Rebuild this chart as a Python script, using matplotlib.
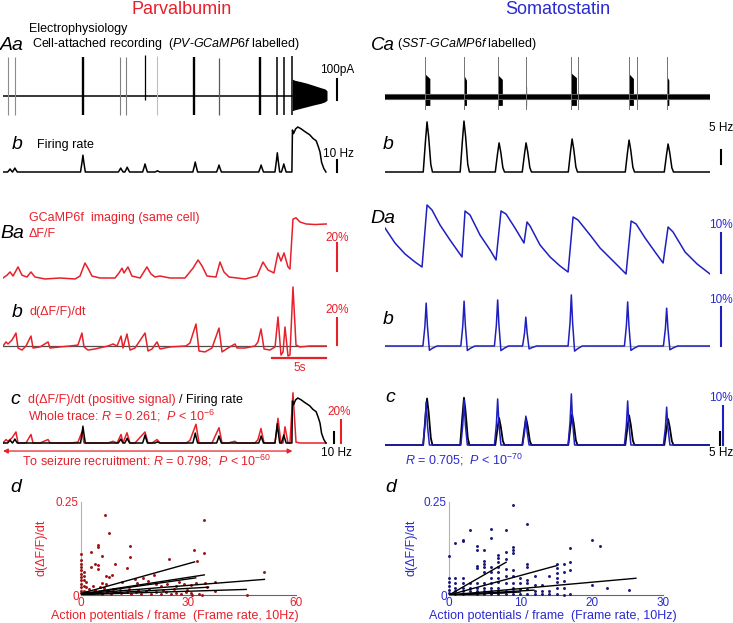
import matplotlib
matplotlib.use('Agg')
import matplotlib.pyplot as plt
import numpy as np

plt.rcParams['font.family'] = ['Liberation Sans', 'DejaVu Sans']
plt.rcParams['mathtext.fontset'] = 'custom'
plt.rcParams['mathtext.rm'] = 'Liberation Sans'
plt.rcParams['mathtext.it'] = 'Liberation Sans:italic'

RED = '#e8202a'
BLUE = '#2a2ad0'
TBLUE = '#1f1fc0'

# ---- Parvalbumin: cell-attached spikes (time s, pA)
aa_t = [0.45, 1.1, 7.4, 10.8, 11.4, 13.15, 14.3, 17.7, 20.0, 23.8, 25.4, 26.0, 26.8]
aa_hi = [185, 185, 185, 185, 185, 195, 190, 185, 180, 185, 185, 185, 190]
aa_lo = [-90, -90, -90, -90, -90, -20, -90, -90, -90, -90, -90, -90, -90]
aa_col = ['0.55', '0.55', 'k', '0.5', '0.5', 'k', '0.75', 'k', '0.35', 'k', 'k', 'k', 'k']
aa_lw = [0.8, 0.8, 1.7, 0.8, 0.8, 0.9, 0.8, 1.7, 0.9, 1.7, 1.1, 1.1, 1.1]
# seizure discharge envelope
sz_env_t = [26.8, 27.0, 27.6, 28.2, 28.8, 29.4, 29.8, 30.0]
sz_env_hi = [80, 75, 68, 60, 50, 40, 34, 25]
sz_env_lo = [-70, -66, -58, -50, -42, -35, -28, -20]

# firing rate (Hz)
fr_t = [0.65, 1.1, 7.4, 10.9, 11.5, 13.15, 14.3, 17.8, 20.0, 23.9, 25.4, 26.0]
fr_hz = [2.5, 3.3, 14, 3.3, 4, 6.7, 1, 8.3, 5.8, 5.8, 16, 6.7]
sz_t = [26.5, 26.75, 26.8, 26.9, 27.1, 27.3, 27.6, 27.9, 28.15, 28.4, 28.7,
        29.0, 29.2, 29.35, 29.5, 29.7, 29.9]
sz_hz = [0, 0, 35, 32, 36, 37.5, 36, 34, 32.5, 31, 28, 26, 21, 16.7, 8, 3, 0]

# GCaMP6f dF/F (%)
ba_t = [0, 0.37, 0.65, 0.93, 1.39, 1.76, 2.22, 2.59, 2.96, 3.89, 5.28, 6.67, 7.13,
        7.59, 7.87, 8.24, 8.98, 10.37, 10.74, 11.02, 11.2, 11.57, 11.94, 12.69,
        13.33, 13.7, 14.07, 14.54, 15.46, 16.85, 17.59, 18.06, 18.43, 18.89,
        19.72, 20.09, 20.46, 20.93, 22.41, 23.52, 24.07, 24.54, 25.09, 25.46,
        25.74, 26.02, 26.39, 26.57, 26.85, 27.13, 27.5, 28.06, 28.89, 30.0]
ba_v = [0, 2, 4.3, 1.4, 7.9, 2, 0.7, 4.3, 0.7, -0.7, 0, -0.7, 1.4, 10.7, 7, 1.4,
        0, 0, 3.6, 7, 3.6, 7.9, 1.4, 0, 7.9, 2.9, 0.7, 1.4, 0, 0, 7, 12.9, 8.6,
        1.4, 0.7, 11.4, 4.3, 0.7, -0.7, 1.4, 11.4, 5.7, 3.6, 17.9, 12.1, 17.9,
        7.9, 6.4, 42, 43, 40, 38.6, 38.2, 38.6]

# d(dF/F)/dt (%)
bb_t = [0, 0.28, 0.46, 0.83, 1.2, 1.39, 1.76, 2.13, 2.59, 2.78, 3.43, 4.17, 4.35,
        5.28, 6.2, 6.94, 7.31, 7.5, 7.87, 8.52, 9.72, 10.19, 10.56, 10.93, 11.11,
        11.48, 11.76, 12.22, 13.15, 13.43, 13.8, 14.26, 14.54, 15.46, 16.94,
        17.31, 17.87, 18.15, 18.7, 19.35, 20.0, 20.28, 20.83, 21.48, 21.67,
        22.41, 23.33, 23.61, 23.89, 24.17, 24.72, 25.19, 25.46, 25.74, 25.93,
        26.11, 26.39, 26.57, 26.85, 27.13, 27.5, 28.43, 30.0]
bb_v = [0, 3.0, 1.5, 4.4, 9.6, -1.5, -3.0, 0, 7.4, -1.5, -0.7, 3.0, -1.5, -0.7, 0,
        0.7, 9.6, -0.7, -3.0, -2.2, 0, 1.5, 0, 7.4, -1.5, 8.9, -3.0, -1.5, 9.6,
        -3.7, -2.2, 3.0, -2.2, -0.7, 0, 2.2, 16.3, -3.7, -4.4, -1.5, 13.3, -4.4,
        -1.5, 1.5, -1.5, -1.5, 0, 3.0, 12.6, -2.2, -3.0, -0.7, 21.5, -6.7, -4.4,
        14.1, -7.4, -6.7, 43.7, 0.7, -0.7, 0, 0]

# ---- Somatostatin
ca_t = [3.69, 7.32, 10.43, 12.99, 17.17, 22.53, 26.0]
ca_burst_w = [0.45, 0.2, 0.4, 0.08, 0.5, 0.4, 0.2]
ca_burst_hi = [110, 100, 105, 60, 115, 110, 100]
ca_extra_t = [17.8, 23.3]

cb_t = [3.88, 7.29, 10.53, 13.02, 17.27, 22.53, 26.13]
cb_hz = [17.9, 18.2, 10.4, 10.4, 11.8, 11.4, 10.0]

da_t = [0, 0.92, 1.85, 2.77, 3.42, 3.88, 4.34, 5.08, 6.0, 7.11, 7.39, 7.85, 8.77,
        9.7, 10.25, 10.71, 11.17, 12.0, 12.83, 13.11, 13.39, 14.31, 15.24, 16.16,
        16.9, 17.36, 17.82, 18.93, 19.85, 21.24, 22.25, 22.72, 23.18, 24.01,
        24.93, 25.67, 26.13, 26.59, 27.7, 28.81, 30.0]
da_v = [11.5, 7.75, 5, 3, 1.75, 17.25, 16, 12.25, 8.5, 4.25, 15.75, 14.75, 9.75,
        6, 3.5, 15.75, 15, 11.5, 7.75, 13, 12, 7.25, 4.25, 2, 0.5, 14.25, 13.5,
        9.75, 6.5, 2.75, 0, 13.25, 12.5, 9, 5.5, 2.75, 11.75, 10.5, 5.5, 2.5, 0]

db_t = [3.8, 7.3, 10.4, 13.0, 17.2, 22.4, 26.0]
db_v = [11.0, 11.5, 11.8, 7.4, 13.1, 11.3, 9.7]

# ---- scatter (APs / frame, d(dF/F)/dt)
pv_x = [6.7, 34.4, 7.8, 2.8, 4.7, 4.7, 5.8, 13.6, 13.6, 31.5, 34.4, 32.4, 24.6, 0,
        0, 0, 0, 0, 0, 0, 0, 0, 0, 0, 0,
        0.7, 0.7, 0.7, 0.7, 0.7, 1.5, 1.5, 1.5,
        2.8, 3.9, 4.7, 4.7, 6.9, 7.8, 8.7, 5.9, 7.1, 9.6, 12.7, 11.5,
        15.0, 15.6, 17.3, 18.6, 20.5, 21.0, 22.3, 24.0, 26.4, 27.4, 28.7, 30.6, 32.0,
        37.5, 34.7, 35.2, 37.5, 51.2, 46.2,
        1.7, 3.0, 4.4, 5.8, 7.2, 8.5, 9.9, 11.3, 12.7, 14.0, 15.4, 16.8, 18.2,
        19.6, 20.9, 22.3, 23.7, 25.1, 26.4, 27.8, 29.2, 30.6, 31.0, 32.9, 33.8,
        2.2, 4.0, 6.5, 9.0, 11.0, 13.5, 16.0, 19.0, 23.0, 26.0, 29.5, 3.3, 5.2]
pv_y = [0.216, 0.202, 0.166, 0.116, 0.134, 0.129, 0.105, 0.132, 0.102, 0.120,
        0.113, 0.091, 0.096, 0.109,
        0.093, 0.084, 0.075, 0.066, 0.057, 0.048, 0.039, 0.030, 0.021, 0.012, 0.005,
        0.061, 0.052, 0.039, 0.025, 0.012, 0.034, 0.021, 0.007,
        0.075, 0.084, 0.080, 0.071, 0.052, 0.048, 0.054, 0.032, 0.030, 0.082, 0.073,
        0.034, 0.043, 0.032, 0.047, 0.038, 0.054, 0.030, 0.025, 0.030, 0.023, 0.034,
        0.030, 0.027, 0.032, 0.036, 0.032, 0.021, 0.012, 0.063, 0.0,
        0.007, 0.005, 0.009, 0.004, 0.007, 0.004, 0.009, 0.005, 0.007, 0.004,
        0.008, 0.004, 0.010, 0.004, 0.007, 0.004, 0.008, 0.004, 0.006, 0.004,
        0.009, 0.005, 0.0, 0.003, 0.0,
        0.016, 0.014, 0.018, 0.015, 0.013, 0.017, 0.014, 0.016, 0.013, 0.015,
        0.014, 0.024, 0.022]
pv_fit_x1 = [31.7, 34.4, 51.2, 32.0, 35.6, 46.1]
pv_fit_y0 = [0.004, 0.003, 0.003, 0.002, 0.001, 0.001]
pv_fit_y1 = [0.089, 0.054, 0.042, 0.046, 0.021, 0.015]

sst_x = [9.0, 10.9, 2.9, 5.9, 8.0, 1.9, 1.9, 0.85, 5.9, 20.1, 21.1, 3.9, 3.9, 4.9,
         6.9, 6.9, 6.9, 8.0, 8.0, 9.0, 9.0, 9.0, 17.0, 0,
         3.9, 3.9, 4.9, 4.9, 4.9, 4.9, 5.9, 5.9, 5.9, 6.9, 6.9, 6.9, 6.9, 6.9,
         8.0, 8.0, 8.0, 9.0, 9.0, 9.0, 9.0, 10.0, 10.0, 10.0,
         10.9, 10.9, 10.9, 10.9, 10.9, 12.0, 12.0, 12.0, 13.1, 13.1, 14.0, 14.0,
         15.1, 15.1, 15.1, 15.1, 15.1, 15.1, 16.1, 16.1, 16.1, 16.1, 17.0, 17.0,
         20.1, 22.1, 25.2,
         0, 0, 0, 0, 0, 0.85, 0.85, 0.85, 0.85, 0.85, 1.9, 1.9, 1.9, 1.9, 1.9,
         2.9, 2.9, 2.9, 3.9, 3.9, 3.9, 3.9, 4.9, 4.9, 4.9, 4.9, 5.9, 5.9, 5.9, 5.9,
         6.9, 6.9, 8.0, 8.0, 9.0, 9.0, 10.0, 10.9, 12.0, 13.1, 14.0, 15.1, 16.1, 17.0]
sst_y = [0.242, 0.190, 0.176, 0.178, 0.174, 0.149, 0.144, 0.139, 0.153, 0.149,
         0.133, 0.131, 0.122, 0.121, 0.108, 0.099, 0.090, 0.115, 0.097, 0.130,
         0.120, 0.113, 0.126, 0.106,
         0.077, 0.072, 0.092, 0.083, 0.074, 0.063, 0.074, 0.063, 0.047, 0.074,
         0.063, 0.047, 0.034, 0.020, 0.070, 0.052, 0.032, 0.068, 0.050, 0.032,
         0.020, 0.047, 0.032, 0.015,
         0.083, 0.074, 0.041, 0.032, 0.015, 0.050, 0.026, 0.011, 0.026, 0.011,
         0.052, 0.011, 0.083, 0.072, 0.059, 0.047, 0.034, 0.020, 0.083, 0.061,
         0.038, 0.020, 0.090, 0.068, 0.026, 0.020, 0.013,
         0.047, 0.034, 0.023, 0.014, 0.006, 0.045, 0.032, 0.020, 0.011, 0.004,
         0.047, 0.032, 0.020, 0.011, 0.004, 0.032, 0.020, 0.011, 0.032, 0.020,
         0.011, 0.004, 0.032, 0.020, 0.011, 0.004, 0.032, 0.020, 0.011, 0.004,
         0.011, 0.004, 0.011, 0.004, 0.011, 0.004, 0.004, 0.004, 0.004, 0.004,
         0.004, 0.004, 0.0, 0.004]
sst_fit_x1 = [8.0, 15.1, 26.2, 11.9, 10.0, 8.0]
sst_fit_y1 = [0.088, 0.079, 0.045, 0.013, 0.008, 0.006]

W, H = 733, 623
fig = plt.figure(figsize=(W / 100, H / 100), dpi=100)


def px_ax(x0, y0, x1, y1):
    ax = fig.add_axes([x0 / W, 1 - y1 / H, (x1 - x0) / W, (y1 - y0) / H])
    ax.patch.set_visible(False)
    return ax


def trace_ax(x0, x1, y0, y1, base, ppu):
    ax = px_ax(x0, y0, x1, y1)
    ax.set_xlim(0, 30)
    ax.set_ylim((base - y1) / ppu, (base - y0) / ppu)
    ax.axis('off')
    return ax


def txt(x, y, s, **kw):
    kw.setdefault('va', 'center')
    kw.setdefault('fontsize', 9)
    return fig.text(x / W, 1 - y / H, s, **kw)


def bumps(times, heights, offs, fracs, tail_t=None, tail_v=None):
    xs, ys = [0], [0]
    for t, h in zip(times, heights):
        xs += [t + o for o in offs]
        ys += [h * f for f in fracs]
    if tail_t is not None:
        xs += tail_t
        ys += tail_v
    else:
        xs.append(30)
        ys.append(0)
    return xs, ys


LX0, LX1 = 3, 327
RX0, RX1 = 385, 710

# ---------------- Aa
ax = trace_ax(LX0, LX1, 50, 120, 96, 0.21)
ax.plot([0, 26.8], [0, 0], color='k', lw=1.1)
for t, hi, lo, c, lw in zip(aa_t, aa_hi, aa_lo, aa_col, aa_lw):
    ax.plot([t, t], [lo, hi], color=c, lw=lw, solid_capstyle='butt')
ax.fill_between(sz_env_t, sz_env_lo, sz_env_hi, color='k', lw=0)
ax.plot([30.9, 30.9], [-19, 81], color='k', lw=1.5, clip_on=False)

# ---------------- Ab firing rate
ax = trace_ax(LX0, LX1, 115, 178, 172, 1.2)
fx, fy = bumps(fr_t, fr_hz, [-0.22, -0.08, 0, 0.08, 0.22], [0, 0.6, 1, 0.6, 0],
               sz_t, sz_hz)
ax.plot(fx, fy, color='k', lw=1.1)
ax.plot([30.9, 30.9], [0, 10], color='k', lw=1.5, clip_on=False)

# ---------------- Ba dF/F
ax = trace_ax(LX0, LX1, 205, 285, 278, 1.4)
ax.plot(ba_t, ba_v, color=RED, lw=1.1)
ax.plot([30.9, 30.9], [5, 25], color=RED, lw=1.5, clip_on=False)

# ---------------- Bb derivative
ax = trace_ax(LX0, LX1, 280, 362, 346, 1.35)
ax.plot([0, 30], [0, 0], color='0.3', lw=0.9)
ax.plot(bb_t, bb_v, color=RED, lw=1.1)
ax.plot([30.9, 30.9], [1, 21], color=RED, lw=1.5, clip_on=False)
ax.plot([24.9, 29.9], [-8.9, -8.9], color=RED, lw=1.6, clip_on=False)

# ---------------- Bc overlay
axr = trace_ax(LX0, LX1, 385, 456, 443, 1.15)
axr.plot(bb_t, np.clip(bb_v, 0, None), color=RED, lw=1.1)
axr.plot([31.3, 31.3], [0, 20], color=RED, lw=1.5, clip_on=False)
axk = trace_ax(LX0, LX1, 385, 456, 443, 1.2)
axk.plot(fx, fy, color='k', lw=1.1)
axk.plot([30.65, 30.65], [0, 9], color='k', lw=1.5, clip_on=False)
axk.annotate('', xy=(0, -6.7), xytext=(26.8, -6.7), annotation_clip=False,
             arrowprops=dict(arrowstyle='<|-|>', color=RED, lw=0.9,
                             mutation_scale=7, shrinkA=0, shrinkB=0))

# ---------------- Ca cell-attached
ax = trace_ax(RX0, RX1, 50, 120, 97, 0.21)
ax.plot([0, 30], [0, 0], color='0.45', lw=4.4, solid_capstyle='butt')
ax.plot([0, 30], [0, 0], color='k', lw=3.2, solid_capstyle='butt')
for t in ca_t + ca_extra_t:
    ax.plot([t, t], [-55, 190], color='0.45', lw=0.7)
for t, w, hi in zip(ca_t, ca_burst_w, ca_burst_hi):
    ax.fill_between([t, t + w], [-40, -40], [hi, hi * 0.8], color='k', lw=0)

# ---------------- Cb firing rate
ax = trace_ax(RX0, RX1, 115, 178, 172, 2.8)
cx, cy = bumps(cb_t, cb_hz, [-0.35, -0.15, 0, 0.15, 0.35, 0.5],
               [0, 0.6, 1, 0.7, 0.15, 0])
ax.plot(cx, cy, color='k', lw=1.1)
ax.plot([31.0, 31.0], [2.9, 7.9], color='k', lw=1.5, clip_on=False)

# ---------------- Da dF/F
ax = trace_ax(RX0, RX1, 195, 280, 274, 4.0)
ax.plot(da_t, da_v, color=TBLUE, lw=1.1)
ax.plot([31.0, 31.0], [0.25, 10.25], color=TBLUE, lw=1.5, clip_on=False)

# ---------------- Db derivative
ax = trace_ax(RX0, RX1, 285, 355, 346, 3.9)
ax.plot([0, 30], [0, 0], color='0.7', lw=0.9)
dx, dy = bumps(db_t, db_v, [-0.3, -0.12, 0, 0.12, 0.3, 0.6, 1.0],
               [0, 0.45, 1, 0.45, -0.1, -0.05, 0])
ax.plot(dx, dy, color=TBLUE, lw=1.1)
ax.plot([31.0, 31.0], [0, 10], color=TBLUE, lw=1.5, clip_on=False)

# ---------------- Dc overlay
axk = trace_ax(RX0, RX1, 385, 450, 445, 2.6)
axk.plot(cx, cy, color='k', lw=1.3)
axk.plot([30.95, 30.95], [0, 5], color='k', lw=1.5, clip_on=False)
axb = trace_ax(RX0, RX1, 385, 450, 445, 3.9)
axb.plot(dx, np.clip(dy, 0, None), color=TBLUE, lw=1.1)
axb.plot([31.2, 31.2], [0, 10], color=TBLUE, lw=1.5, clip_on=False)


# ---------------- scatter panels
def scatter_panel(x0, x1, xs, ys, color, xmax, xticks, fit_x1, fit_y0, fit_y1, lcol):
    ax = px_ax(x0, 502, x1, 595)
    ax.scatter(xs, ys, s=4.5, marker='o', color=color, linewidths=0,
               clip_on=False, zorder=3)
    for xe, y0, y1 in zip(fit_x1, fit_y0, fit_y1):
        ax.plot([0, xe], [y0, y1], color='k', lw=1.0, zorder=4)
    ax.set_xlim(0, xmax)
    ax.set_ylim(0, 0.25)
    ax.set_xticks(xticks)
    ax.set_yticks([0, 0.25])
    ax.set_yticklabels(['0', '0.25'])
    ax.tick_params(colors='0.6', labelcolor=lcol, labelsize=8.5, length=0, pad=1.5)
    for s in ['top', 'right']:
        ax.spines[s].set_visible(False)
    ax.spines['left'].set_color('0.7')
    ax.spines['bottom'].set_color('0.4')
    return ax


scatter_panel(81, 296, pv_x, pv_y, '#9e1212', 60, [0, 30, 60],
              pv_fit_x1, pv_fit_y0, pv_fit_y1, RED)
scatter_panel(449, 663, sst_x, sst_y, '#18187a', 30, [0, 10, 20, 30],
              sst_fit_x1, [0.0] * len(sst_fit_x1), sst_fit_y1, BLUE)

# ---------------- texts
txt(182, 10, 'Parvalbumin', color=RED, fontsize=13, ha='center')
txt(558, 10, 'Somatostatin', color=BLUE, fontsize=13, ha='center')

txt(29, 29, 'Electrophysiology')
txt(0, 45, 'Aa', fontsize=14, style='italic')
txt(32, 44, r'Cell-attached recording  ($\mathit{PV}$-$\mathit{GCaMP6f}$ labelled)')
txt(337, 70, '100pA', ha='center', fontsize=8.5)
txt(12, 145, 'b', fontsize=14, style='italic')
txt(37, 145, 'Firing rate')
txt(338, 154, '10 Hz', ha='center', fontsize=8.5)

txt(29, 218, 'GCaMP6f  imaging (same cell)', color=RED)
txt(29, 234, r'ΔF/F', color=RED)
txt(0, 234, 'Ba', fontsize=14, style='italic')
txt(337, 238, '20%', color=RED, ha='center', fontsize=8.5)
txt(12, 312, 'b', fontsize=14, style='italic')
txt(29, 312, r'd(ΔF/F)/dt', color=RED)
txt(337, 310, '20%', color=RED, ha='center', fontsize=8.5)
txt(300, 368, '5s', color=RED, ha='center', fontsize=8.5)

txt(10, 400, 'c', fontsize=14, style='italic')
t1 = txt(28, 400, 'd(ΔF/F)/dt (positive signal)', color=RED)
r = fig.canvas.get_renderer()
bb = t1.get_window_extent(renderer=r)
fig.text(bb.x1 / W + 3 / W, 1 - 400 / H, '/ Firing rate', va='center', fontsize=9)
txt(28, 416, r'Whole trace: $R$ = 0.261;  $P$ < 10$^{-6}$', color=RED)
txt(339, 412, '20%', color=RED, ha='center', fontsize=8.5)
txt(336, 453, '10 Hz', ha='center', fontsize=8.5)
txt(22, 461, r'To seizure recruitment: $R$ = 0.798;  $P$ < 10$^{-60}$', color=RED)

txt(10, 487, 'd', fontsize=14, style='italic')
txt(42, 548, 'd(ΔF/F)/dt', color=RED, rotation=90, ha='center')
txt(175, 616, 'Action potentials / frame  (Frame rate, 10Hz)', color=RED, ha='center')

txt(371, 45, 'Ca', fontsize=13.5, style='italic')
txt(397, 44, r'($\mathit{SST}$-$\mathit{GCaMP6f}$ labelled)')
txt(383, 145, 'b', fontsize=14, style='italic')
txt(733, 128, '5 Hz', ha='right', fontsize=8.5)
txt(370, 218, 'Da', fontsize=14, style='italic')
txt(721, 225, '10%', color=BLUE, ha='center', fontsize=8.5)
txt(383, 320, 'b', fontsize=14, style='italic')
txt(721, 300, '10%', color=BLUE, ha='center', fontsize=8.5)
txt(385, 398, 'c', fontsize=14, style='italic')
txt(721, 398, '10%', color=BLUE, ha='center', fontsize=8.5)
txt(733, 453, '5 Hz', ha='right', fontsize=8.5)
txt(405, 460, r'$R$ = 0.705;  $P$ < 10$^{-70}$', color=BLUE)
txt(385, 487, 'd', fontsize=14, style='italic')
txt(412, 548, 'd(ΔF/F)/dt', color=BLUE, rotation=90, ha='center')
txt(553, 616, 'Action potentials / frame  (Frame rate, 10Hz)', color=BLUE, ha='center')

fig.savefig('out.png', dpi=100)
